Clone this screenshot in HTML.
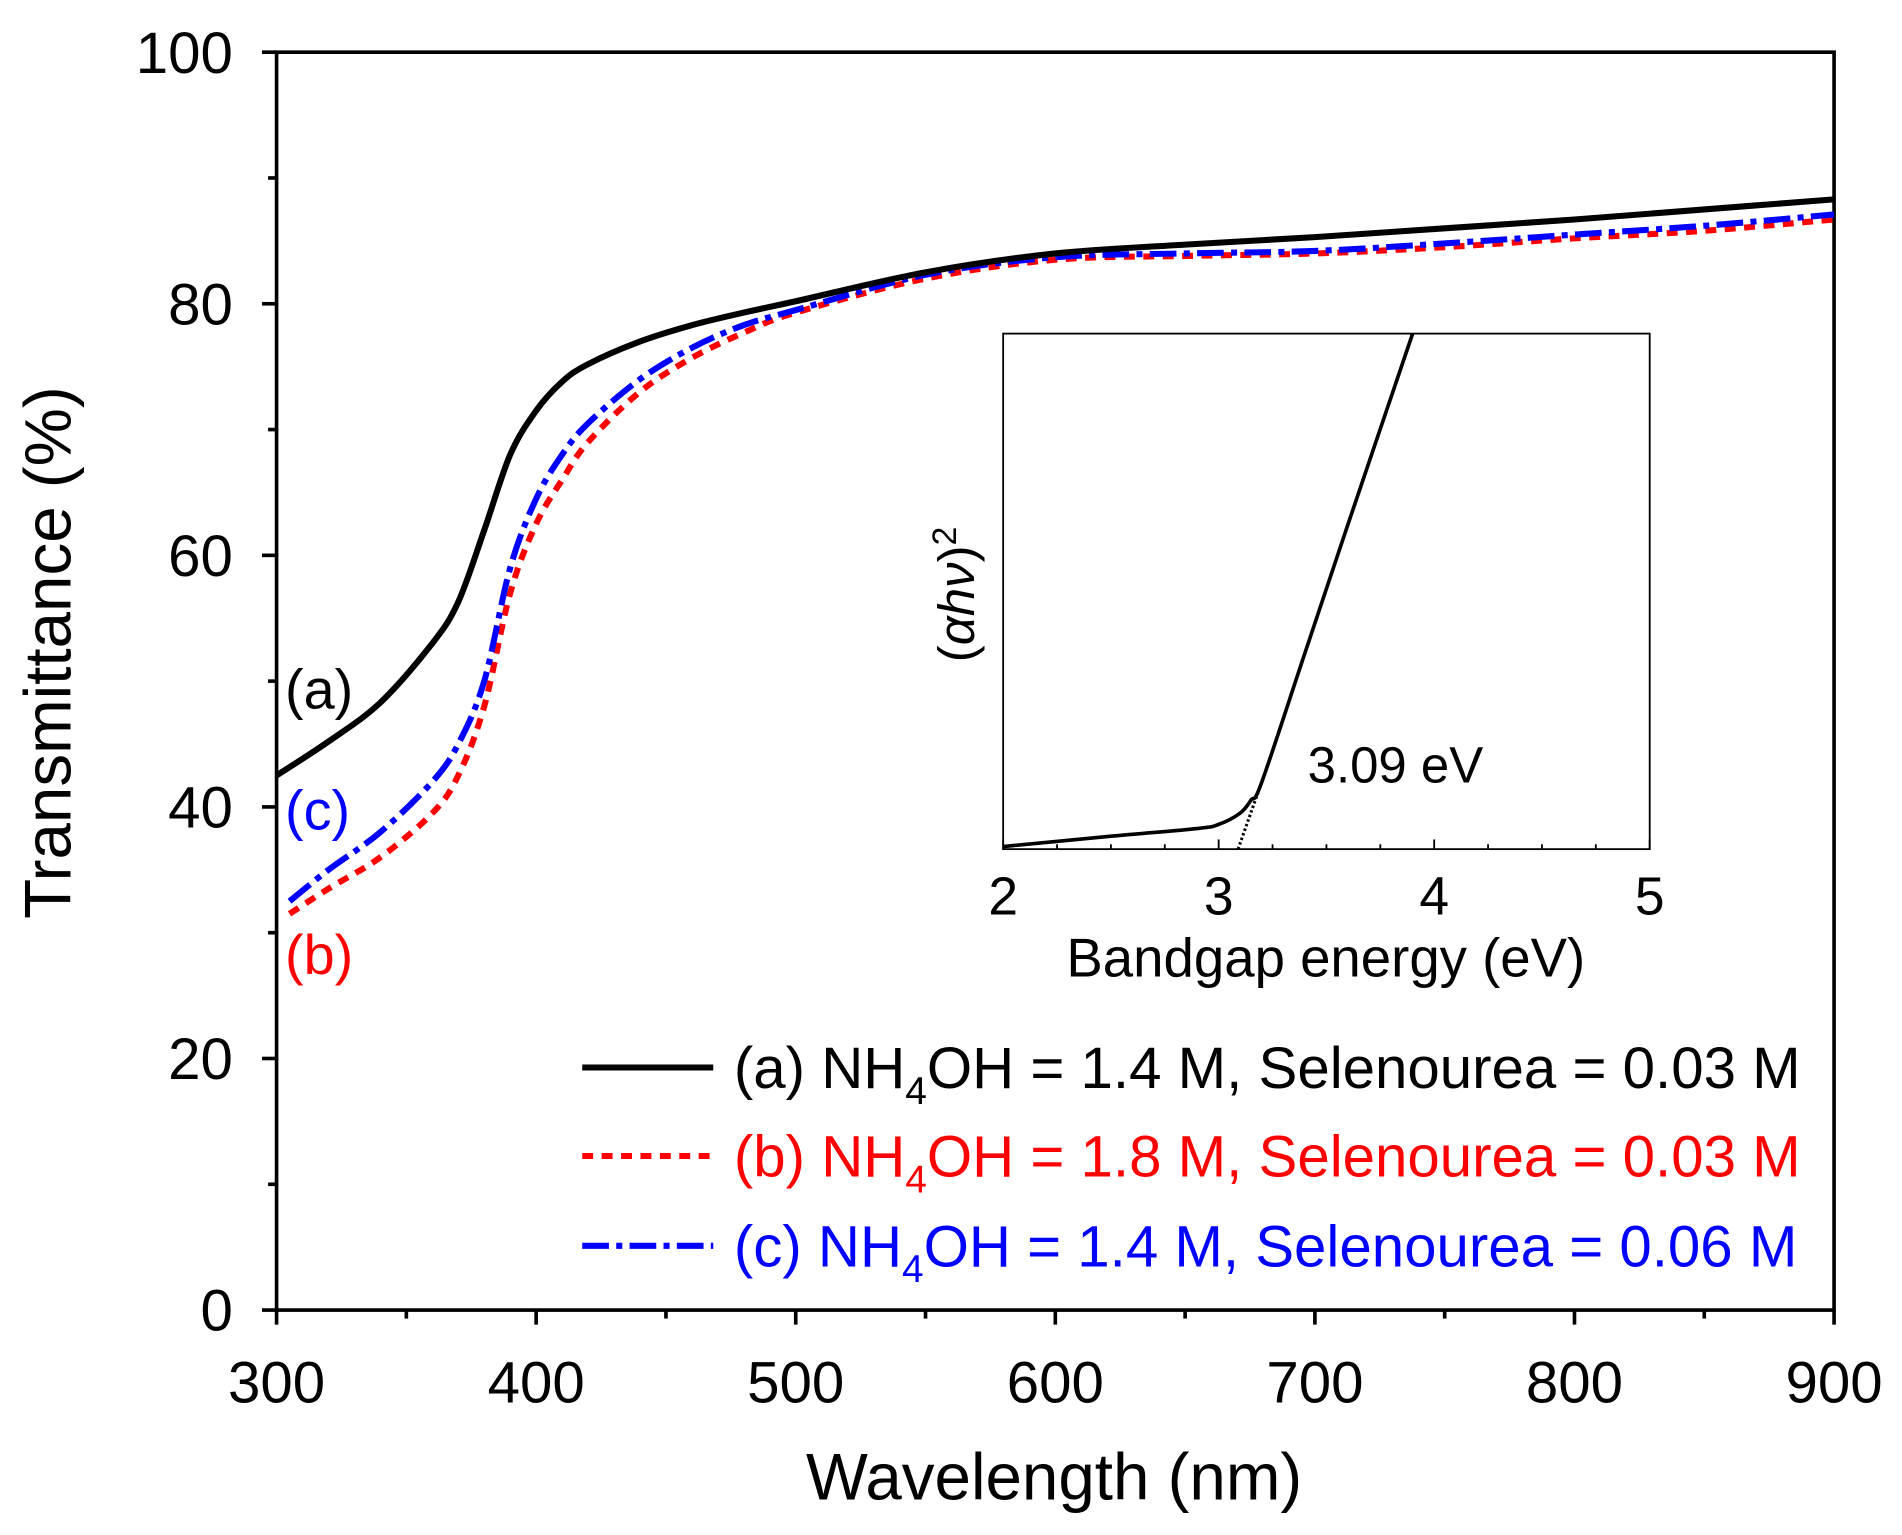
<!DOCTYPE html>
<html><head><meta charset="utf-8"><style>
html,body{margin:0;padding:0;background:#fff;}
svg{display:block;font-family:"Liberation Sans",Arial,sans-serif;}
</style></head><body>
<svg id="chart" width="1902" height="1535" viewBox="0 0 1568 1265.4" xmlns="http://www.w3.org/2000/svg">
<g id="axes"></g>
<g id="series"></g>
<g id="inset"></g>
<g id="legend"></g>
</svg>
<script>
const wavelengths=[300,320,340,360,370,380,390,400,410,420,440,460,480,500,550,600,650,700,750,800,850,900];
const seriesA=[42.5,45.2,48.3,53,56.3,62,68,71.5,73.8,75.2,77,78.3,79.3,80.2,82.5,84,84.7,85.3,86,86.7,87.5,88.3];
const wavelengthsBC=[305,320,340,360,370,380,390,400,410,420,440,460,480,500,550,600,650,700,750,800,850,900];
const seriesB=[31.5,33.5,36,39.5,42.5,48,57,62.5,66,69,73,75.7,77.7,79.3,82,83.5,83.8,84,84.5,85.2,85.8,86.7];
const seriesC=[32.5,35,38,42,45,50,59,64.5,68,70.5,74,76.5,78.3,79.5,82.3,83.7,84,84.2,84.8,85.5,86.2,87.1];
const xTicks=[300,400,500,600,700,800,900];
const yTicks=[0,20,40,60,80,100];
const insetE=[2.0,2.5,2.9,3.0,3.1,3.15,3.2,3.4,3.6,3.9];
const insetY=[0.005,0.025,0.04,0.048,0.07,0.095,0.13,0.38,0.63,1.0];
const insetXTicks=[2,3,4,5];

const NS="http://www.w3.org/2000/svg";
function mk(tag,attrs,parent,txt){const e=document.createElementNS(NS,tag);for(const k in attrs)e.setAttribute(k,attrs[k]);if(txt!==undefined)e.textContent=txt;parent.appendChild(e);return e;}
const X0=228,X1=1512,Y0=1080,Y1=43;
const sx=v=>X0+(v-300)/600*(X1-X0);
const sy=v=>Y0-v/100*(Y0-Y1);
function smooth(pts){let d="M"+pts[0][0]+","+pts[0][1];for(let i=0;i<pts.length-1;i++){const p0=pts[Math.max(0,i-1)],p1=pts[i],p2=pts[i+1],p3=pts[Math.min(pts.length-1,i+2)];const c1=[p1[0]+(p2[0]-p0[0])/6,p1[1]+(p2[1]-p0[1])/6],c2=[p2[0]-(p3[0]-p1[0])/6,p2[1]-(p3[1]-p1[1])/6];d+=" C"+c1+" "+c2+" "+p2;}return d;}

const axes=document.getElementById('axes');
for(let v=300;v<=900;v+=50){const t=mk('line',{x1:sx(v),x2:sx(v),y1:Y0,y2:Y0+(v%100===0?12:7),stroke:'#000','stroke-width':3},axes);

}
for(let v=0;v<=100;v+=10){const t=mk('line',{x1:X0,x2:X0-(v%20===0?12:7),y1:sy(v),y2:sy(v),stroke:'#000','stroke-width':3},axes);

}
xTicks.forEach(v=>{const t=mk('text',{x:sx(v),y:1156,'font-size':48,'text-anchor':'middle'},axes,String(v));

});
yTicks.forEach(v=>{const t=mk('text',{x:192,y:sy(v)+17,'font-size':48,'text-anchor':'end'},axes,String(v));

});
const frame=mk('rect',{x:X0,y:Y1,width:X1-X0,height:Y0-Y1,fill:'none',stroke:'#000','stroke-width':3},axes);


const xt=mk('text',{x:869,y:1236,'font-size':54,'text-anchor':'middle'},axes,'Wavelength (nm)');


const yt=mk('text',{x:0,y:0,'font-size':54,'text-anchor':'middle',transform:'translate(58,538) rotate(-90)'},axes,'Transmittance (%)');



const ser=document.getElementById('series');
function drawSeries(xs,ys,color,dash,name){const p=mk('path',{d:smooth(xs.map((x,i)=>[sx(x),sy(ys[i])])),fill:'none',stroke:color,'stroke-width':5,'stroke-dasharray':dash},ser);

}
drawSeries(wavelengthsBC,seriesB,'#f00','9 7','series-b-line');
drawSeries(wavelengthsBC,seriesC,'#00f','22 6 5 6','series-c-line');
drawSeries(wavelengths,seriesA,'#000','none','series-a-line');
[['(a)',568,'#000','label-a'],['(c)',668,'#00f','label-c'],['(b)',787,'#f00','label-b']].forEach(l=>{const t=mk('text',{x:235,y:l[1]+16,'font-size':46,fill:l[2]},ser,l[0]);

});

// inset
const ins=document.getElementById('inset');
const IX0=827,IX1=1360,IY0=700,IY1=275;
const ix=v=>IX0+(v-2)/3*(IX1-IX0);
const iy=v=>IY0-v*(IY0-IY1);
const ib=mk('rect',{x:IX0,y:IY1,width:IX1-IX0,height:IY0-IY1,fill:'#fff',stroke:'#000','stroke-width':1.5},ins);


for(let v=2;v<=5.001;v+=0.25){const t=mk('line',{x1:ix(v),x2:ix(v),y1:IY0,y2:IY0-(Math.abs(v-Math.round(v))<0.01?8:4),stroke:'#000','stroke-width':1.5},ins);

}
insetXTicks.forEach(v=>{const t=mk('text',{x:ix(v),y:754,'font-size':44,'text-anchor':'middle'},ins,String(v));

});
const ixt=mk('text',{x:1093,y:805,'font-size':45,'text-anchor':'middle'},ins,'Bandgap energy (eV)');


const iyt=mk('text',{x:0,y:0,'font-size':42,'text-anchor':'middle',transform:'translate(803,490) rotate(-90)'},ins);
iyt.innerHTML='(<tspan font-style="italic">αhν</tspan>)<tspan dy="-15" font-size="28">2</tspan>';


const ic=mk('path',{d:smooth(insetE.map((e,i)=>[ix(e),iy(insetY[i])])),fill:'none',stroke:'#000','stroke-width':3},ins);


const ie=mk('line',{x1:ix(3.09),y1:iy(0),x2:ix(3.25),y2:iy(0.19),stroke:'#000','stroke-width':2.5,'stroke-dasharray':'2 2'},ins);


const il=mk('text',{x:1078,y:645,'font-size':42},ins,'3.09 eV');



// legend
const lg=document.getElementById('legend');
[['(a) NH','1.4','0.03','#000','none',880,'legend-entry-a'],['(b) NH','1.8','0.03','#f00','9 7',953,'legend-entry-b'],['(c) NH','1.4','0.06','#00f','22 6 5 6',1027,'legend-entry-c']].forEach(r=>{
const g=mk('g',{},lg);


mk('line',{x1:480,x2:588,y1:r[5],y2:r[5],stroke:r[3],'stroke-width':5,'stroke-dasharray':r[4]},g);
const t=mk('text',{x:605,y:r[5]+17,'font-size':48,fill:r[3]},g);
t.innerHTML=r[0]+'<tspan dy="13" font-size="32">4</tspan><tspan dy="-13">OH = '+r[1]+' M, Selenourea = '+r[2]+' M</tspan>';
});
</script>
</body></html>
